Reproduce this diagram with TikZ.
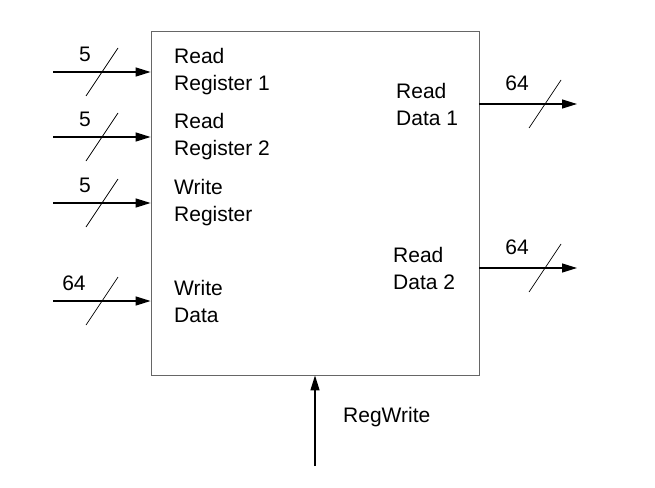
\documentclass[tikz,border=0pt]{standalone}
\usepackage{fontspec}
\setmainfont{Liberation Sans}
\usetikzlibrary{arrows.meta,calc}
\begin{document}
\begin{tikzpicture}[x=1pt,y=-1pt,
    bus/.style={line width=1.3pt,-{Triangle[length=15pt,width=9pt]}},
    slash/.style={line width=0.7pt},
    port/.style={anchor=west,align=left,inner sep=0pt,font=\fontsize{21}{27}\selectfont},
    bits/.style={inner sep=0pt,font=\fontsize{21}{24}\selectfont}]
  \useasboundingbox (0,0) rectangle (655,487);
  \node[draw=black!60,line width=0.8pt,minimum width=328pt,minimum height=344pt,inner sep=0pt] (regs) at (315,203) {};
  % inputs
  \foreach \y/\name/\txt/\w/\wx in {72/rr1/{Read\\Register 1}/5/85,
      137/rr2/{Read\\Register 2}/5/85, 203/wr/{Write\\Register}/5/85,
      301/wd/{Write\\Data}/64/74} {
    \coordinate (\name) at (53,\y);
    \draw[bus] (\name) -- (\name -| regs.west);
    \draw[slash] ($(\name)+(33,24)$) -- ++(32,-48);
    \node[bits] at (\wx,\y-18) {\w};
    \node[port] at (174,\y) {\txt};
  }
  % outputs
  \foreach \y/\name/\txt/\tx in {104/rd1/{Read\\Data 1}/396, 268/rd2/{Read\\Data 2}/393} {
    \coordinate (\name) at (577,\y);
    \draw[bus] (\name -| regs.east) -- (\name);
    \draw[slash] ($(\name)+(-48,24)$) -- ++(32,-48);
    \node[bits] at (517,\y-21) {64};
    \node[port] at (\tx,\y) {\txt};
  }
  % control
  \coordinate (rw) at (315,466);
  \draw[bus] (rw) -- (regs.south);
  \node[port] at (343,417) {RegWrite};
\end{tikzpicture}
\end{document}
